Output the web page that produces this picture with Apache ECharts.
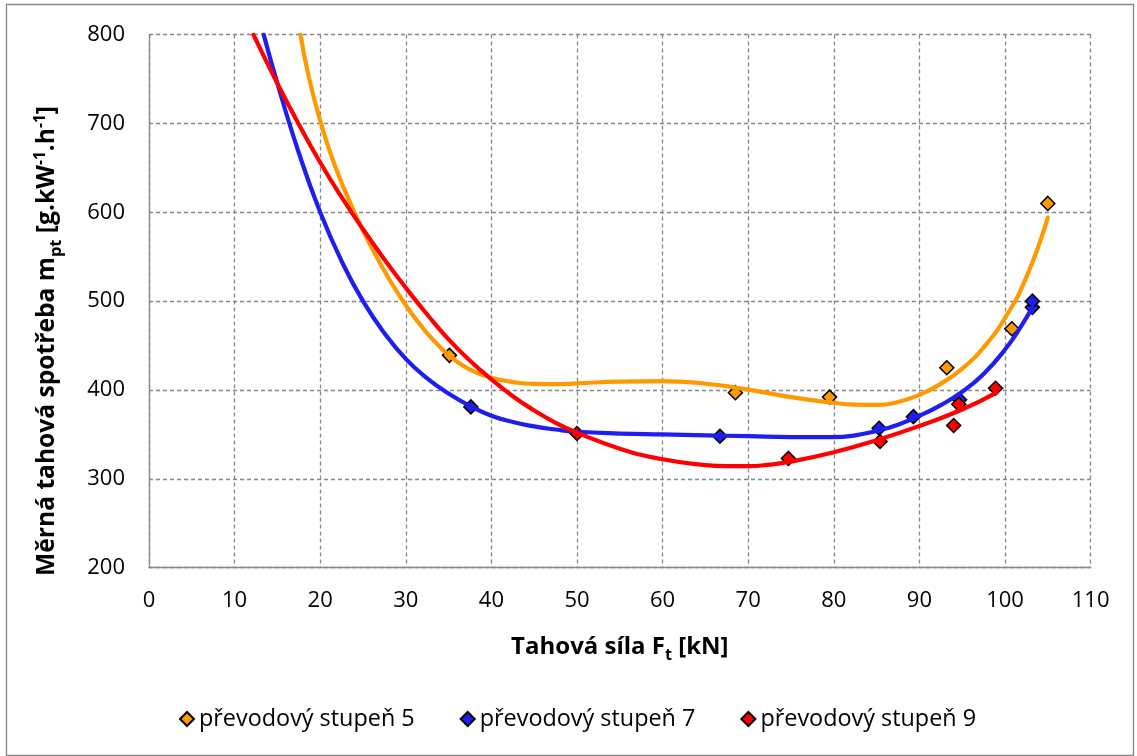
<!DOCTYPE html>
<html>
<head>
<meta charset="utf-8">
<title>Měrná tahová spotřeba</title>
<script src="https://cdn.jsdelivr.net/npm/echarts@6/dist/echarts.min.js"></script>
<style>
  html, body { margin: 0; padding: 0; background: #ffffff; }
  #chart { width: 1137px; height: 756px; }
</style>
</head>
<body>
<div id="chart"></div>
<script>
// Measured points: tractive force [kN] and specific tractive consumption [g/kWh]
const force5 = [35.1, 68.5, 79.5, 93.2, 100.8, 105.0];
const spend5 = [439, 397, 392, 425, 469, 610];
const force7 = [37.6, 66.7, 85.3, 89.3, 94.7, 103.2, 103.2];
const spend7 = [381, 348, 357, 370, 389, 493, 500];
const force9 = [50.0, 74.7, 85.4, 94.0, 94.6, 98.9];
const spend9 = [351, 323, 342, 360, 384, 402];

// Trend curves of each gear, sampled along the force axis
const trendForce5 = [17.7, 18.7, 20.1, 21.7, 24, 26, 28, 30, 32, 34, 36, 38, 40, 42.5, 45, 47.5, 50, 55, 60, 65, 70, 75, 80, 82.5, 85, 87.5, 90, 92.5, 95, 97.5, 100, 102.5, 105];
const trendSpend5 = [800, 751, 700, 653, 600, 560.5, 525.7, 495.4, 469.6, 448.3, 431.8, 420.6, 413.8, 408.9, 406.8, 406.6, 407.4, 409.5, 410, 407, 400.5, 392, 385.5, 383.5, 383.2, 386.5, 394.5, 407, 424, 448, 481, 527, 594];
const trendForce7 = [13.4, 15, 17.5, 20, 22.5, 25, 27.5, 30, 32.5, 35, 37.5, 40, 42.5, 45, 47.5, 50, 55, 60, 65, 70, 75, 80, 82.5, 85, 87.5, 90, 92.5, 95, 97.5, 100, 102, 103.2];
const trendSpend7 = [800, 745, 667, 600, 545, 500, 464, 435, 413, 396, 382, 371, 364, 359, 355.5, 353, 351, 350, 349, 348, 347, 347, 349, 354, 361, 371, 383, 398, 418, 445.5, 473.5, 493];
const trendForce9 = [12.2, 15, 17.5, 20, 22.5, 25, 27.5, 30, 32.5, 35, 37.5, 40, 42.5, 45, 47.5, 50, 55, 60, 65, 67.5, 70, 72.5, 75, 80, 85, 90, 95, 99];
const trendSpend9 = [800, 745, 699, 656, 617, 581, 547, 515, 485, 457, 433, 412, 393, 377, 363, 352, 334, 322, 315.5, 314.3, 314.3, 316, 319.5, 330, 343.5, 359.5, 378, 397];

// Axis ticks
const xTicks = { min: 0, max: 110, step: 10 };
const yTicks = { min: 200, max: 800, step: 100 };

const seriesNames = ['převodový stupeň 5', 'převodový stupeň 7', 'převodový stupeň 9'];
const colors = ['#FF9900', '#1E1EEE', '#FF0000'];

const FONT = "'Open Sans', 'DejaVu Sans', sans-serif";
const GRID_COLOR = '#868686';

function pairs(xs, ys) { return xs.map((x, i) => [x, ys[i]]); }

const pointSets = [pairs(force5, spend5), pairs(force7, spend7), pairs(force9, spend9)];
const trendSets = [pairs(trendForce5, trendSpend5), pairs(trendForce7, trendSpend7), pairs(trendForce9, trendSpend9)];

const series = [];
pointSets.forEach((data, i) => {
  series.push({
    name: seriesNames[i],
    type: 'scatter',
    data: data,
    symbol: 'diamond',
    symbolSize: 14,
    z: 2,
    itemStyle: { color: colors[i], borderColor: '#000000', borderWidth: 1.5, opacity: 1 }
  });
});
trendSets.forEach((data, i) => {
  series.push({
    name: 'trend ' + seriesNames[i],
    type: 'line',
    data: data,
    smooth: 0.5,
    showSymbol: false,
    symbol: 'none',
    clip: true,
    z: 3,
    silent: true,
    lineStyle: { color: colors[i], width: 4.2, cap: 'round' }
  });
});

function titleRich(size) {
  return {
    b: { fontFamily: FONT, fontWeight: 'bold', fontSize: size, color: '#000', lineHeight: size + 6 },
    s: { fontFamily: FONT, fontWeight: 'bold', fontSize: size * 0.67, color: '#000', lineHeight: size * 0.67, padding: [size * 0.75, 0, 0, 0] },
    p: { fontFamily: FONT, fontWeight: 'bold', fontSize: size * 0.63, color: '#000', lineHeight: size * 0.63, padding: [0, 0, size * 0.5, 0] }
  };
}

const chart = echarts.init(document.getElementById('chart'), null, { renderer: 'canvas' });

chart.setOption({
  animation: false,
  backgroundColor: '#ffffff',
  textStyle: { fontFamily: FONT },
  grid: { left: 149, top: 34.6, right: 46.4, bottom: 188.3, containLabel: false },
  legend: {
    data: seriesNames,
    left: 179,
    top: 705,
    padding: 0,
    itemWidth: 14,
    itemHeight: 14,
    itemGap: 45,
    icon: 'diamond',
    textStyle: { fontFamily: FONT, fontSize: 23.4, color: '#000', lineHeight: 28 }
  },
  xAxis: {
    type: 'value',
    min: xTicks.min,
    max: xTicks.max,
    interval: xTicks.step,
    name: '{b|Tahová síla F}{s|t}{b| [kN]}',
    nameLocation: 'middle',
    nameGap: 64,
    nameTextStyle: { rich: titleRich(24) },
    axisLine: { show: true, onZero: false, lineStyle: { color: GRID_COLOR, width: 1.3 } },
    axisTick: { show: false },
    axisLabel: { fontFamily: FONT, fontSize: 22, color: '#000', margin: 22 },
    splitLine: { show: true, lineStyle: { color: GRID_COLOR, width: 1.3, type: [4, 3] } }
  },
  yAxis: {
    type: 'value',
    min: yTicks.min,
    max: yTicks.max,
    interval: yTicks.step,
    axisLine: { show: true, onZero: false, lineStyle: { color: GRID_COLOR, width: 1.3 } },
    axisTick: { show: false },
    axisLabel: { fontFamily: FONT, fontSize: 22, color: '#000', margin: 24 },
    splitLine: { show: true, lineStyle: { color: GRID_COLOR, width: 1.3, type: [4, 3] } }
  },
  graphic: [
    {
      type: 'rect',
      silent: true,
      z: -10,
      shape: { x: 6.5, y: 4.5, width: 1127, height: 751 },
      style: { fill: 'none', stroke: GRID_COLOR, lineWidth: 1.3 }
    },
    {
      type: 'text',
      x: 47,
      y: 341,
      rotation: Math.PI / 2,
      silent: true,
      style: {
        text: '{b|Měrná tahová spotřeba m}{s|pt}{b| [g.kW}{p|-1}{b|.h}{p|-1}{b|]}',
        rich: titleRich(24.6),
        align: 'center',
        verticalAlign: 'middle',
        textAlign: 'center',
        textVerticalAlign: 'middle',
        fill: '#000'
      }
    }
  ],
  series: series
});
</script>
</body>
</html>
